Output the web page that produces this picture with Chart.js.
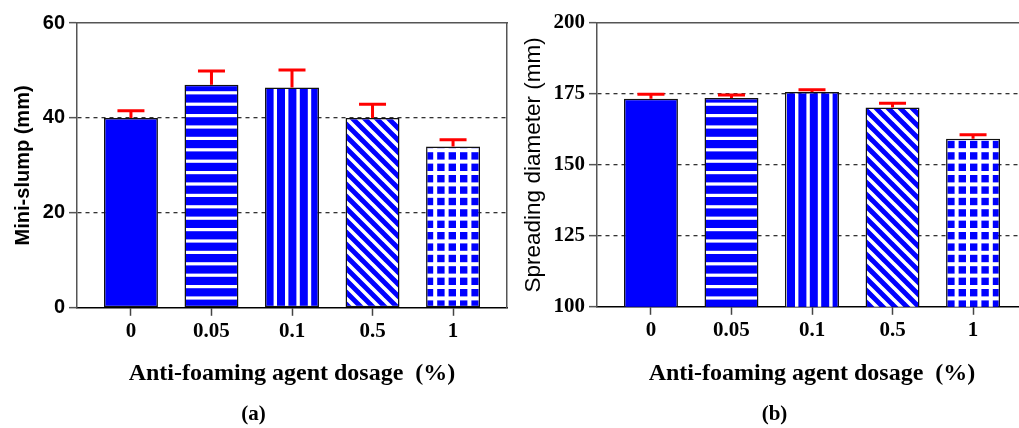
<!DOCTYPE html>
<html>
<head>
<meta charset="utf-8">
<script src="https://cdn.jsdelivr.net/npm/chart.js@4.4.1/dist/chart.umd.min.js"></script>
<style>
  html, body { margin: 0; padding: 0; background: #fff; overflow: hidden; }
  body { width: 1019px; height: 428px; position: relative; }
  .panel { position: absolute; top: 0; }
  #panelA { left: 0; }
  #panelB { left: 510px; }
</style>
</head>
<body>
<div class="panel" id="panelA"><canvas id="chartA" width="515" height="428"></canvas></div>
<div class="panel" id="panelB"><canvas id="chartB" width="530" height="428"></canvas></div>
<script>
// dosage categories (%)
const doses = ['0', '0.05', '0.1', '0.5', '1'];

// (a) mini-slump, mm
const slump = [40.0, 47.0, 46.4, 40.0, 34.0];
const slumpErr = [1.5, 2.9, 3.7, 2.9, 1.4];
const slumpTicks = [0, 20, 40, 60];

// (b) spreading diameter, mm
const spread = [173.3, 173.6, 175.7, 170.2, 159.2];
const spreadErr = [1.6, 1.0, 0.8, 1.5, 1.4];
const spreadTicks = [100, 125, 150, 175, 200];

const BLUE = '#0000ff';
const SANS = "'Liberation Sans', Arial, sans-serif";
const SERIF = "'Liberation Serif', 'Times New Roman', serif";

// hatch fills, one per dosage
function makePattern(kind) {
  const c = document.createElement('canvas');
  const ctx = c.getContext('2d');
  if (kind === 'diag') {
    const s = 12;
    c.width = s; c.height = s;
    ctx.fillStyle = BLUE; ctx.fillRect(0, 0, s, s);
    ctx.strokeStyle = '#fff'; ctx.lineWidth = 3.6;
    ctx.beginPath();
    for (const k of [-s, 0, s]) { ctx.moveTo(-1, k - 1); ctx.lineTo(s + 1, s + k + 1); }
    ctx.stroke();
    return ctx.createPattern(c, 'repeat');
  }
  const p = 11.4, n = 5, s = 57;
  c.width = s; c.height = s;
  ctx.fillStyle = BLUE; ctx.fillRect(0, 0, s, s);
  ctx.fillStyle = '#fff';
  for (let i = 0; i < n; i++) {
    if (kind === 'h' || kind === 'grid') ctx.fillRect(0, i * p, s, kind === 'grid' ? 4 : 3.2);
    if (kind === 'v' || kind === 'grid') ctx.fillRect(i * p, 0, kind === 'grid' ? 4 : 3.4, s);
  }
  return ctx.createPattern(c, 'repeat');
}
const fills = [BLUE, makePattern('h'), makePattern('v'), makePattern('diag'), makePattern('grid')];

// red upward error bars on top of each bar
const errorBars = {
  id: 'errorBars',
  afterDatasetsDraw(chart, args, opts) {
    const { ctx } = chart;
    const y = chart.scales.y;
    const meta = chart.getDatasetMeta(0);
    const data = chart.data.datasets[0].data;
    ctx.save();
    ctx.strokeStyle = '#ff0000';
    ctx.lineWidth = 3;
    meta.data.forEach((bar, i) => {
      const top = y.getPixelForValue(data[i].y + opts.errors[i]);
      ctx.beginPath();
      ctx.moveTo(bar.x, bar.y);
      ctx.lineTo(bar.x, top);
      ctx.moveTo(bar.x - 13.5, top);
      ctx.lineTo(bar.x + 13.5, top);
      ctx.stroke();
    });
    ctx.restore();
  }
};

function buildChart(id, cfg) {
  const lo = cfg.ticks[0], hi = cfg.ticks[cfg.ticks.length - 1];
  return new Chart(document.getElementById(id), {
    type: 'bar',
    data: {
      datasets: [{
        data: cfg.values.map((v, i) => ({ x: i, y: v })),
        backgroundColor: fills,
        borderColor: '#111',
        borderWidth: 1.5,
        borderSkipped: false,
        barPercentage: 0.67,
        categoryPercentage: 1
      }]
    },
    options: {
      responsive: false,
      animation: false,
      layout: { padding: { top: 23, bottom: 1, left: cfg.padLeft, right: cfg.padRight } },
      plugins: {
        legend: { display: false },
        tooltip: { enabled: false },
        title: {
          display: true, position: 'bottom', text: cfg.tag, color: '#000',
          font: { family: SERIF, size: 21, weight: 'bold' },
          padding: 0
        },
        errorBars: { errors: cfg.errors }
      },
      scales: {
        x: {
          type: 'linear', min: -0.67, max: 4.67, offset: false,
          afterBuildTicks: s => { s.ticks = doses.map((d, i) => ({ value: i })); },
          afterFit: s => { s.height = cfg.xHeight; },
          ticks: {
            callback: v => doses[v], color: '#000', padding: 3,
            maxRotation: 0, autoSkip: false,
            font: { family: SERIF, size: 21, weight: 'bold' }
          },
          grid: { offset: false, drawOnChartArea: false, tickLength: 8, tickColor: '#444', tickWidth: 1.5 },
          border: { color: '#000', width: 1.5 },
          title: {
            display: true, text: 'Anti-foaming agent dosage  (%)', color: '#000',
            font: { family: SERIF, size: 24, weight: 'bold' },
            padding: { top: 14, bottom: 14 }
          }
        },
        y: {
          type: 'linear', min: lo, max: hi,
          afterBuildTicks: s => { s.ticks = cfg.ticks.map(v => ({ value: v })); },
          afterFit: s => { s.width = cfg.yWidth; },
          ticks: { color: '#000', padding: 4, font: cfg.tickFont },
          grid: {
            color: c => (c.tick && c.tick.value !== lo && c.tick.value !== hi) ? '#333' : 'transparent',
            lineWidth: 1.3, tickLength: 8, tickColor: '#555', tickWidth: 1.5
          },
          border: { color: '#555', width: 1.5, dash: [4, 4] },
          title: {
            display: true, text: cfg.yTitle, color: '#000',
            font: cfg.titleFont,
            padding: { top: cfg.yTitlePad, bottom: 0 }
          }
        },
        // top and right frame lines
        x2: {
          type: 'linear', position: 'top', display: true, offset: false,
          afterFit: s => { s.height = 0; },
          ticks: { display: false }, grid: { display: false },
          border: { color: '#555', width: 1.5 }
        },
        y2: {
          type: 'linear', position: 'right', display: true,
          afterFit: s => { s.width = 0; },
          ticks: { display: false }, grid: { display: false },
          border: { color: '#555', width: 1.5 }
        }
      }
    },
    plugins: [errorBars]
  });
}

buildChart('chartA', {
  values: slump, errors: slumpErr, ticks: slumpTicks, tag: '(a)',
  yTitle: 'Mini-slump (mm)',
  titleFont: { family: SANS, size: 20, weight: 'bold' },
  tickFont: { family: SANS, size: 20, weight: 'bold' },
  yWidth: 77, yTitlePad: 11, padLeft: 0, padRight: 8, xHeight: 94
});

buildChart('chartB', {
  values: spread, errors: spreadErr, ticks: spreadTicks, tag: '(b)',
  yTitle: 'Spreading diameter (mm)',
  titleFont: { family: SANS, size: 22.5, weight: 'normal' },
  tickFont: { family: SERIF, size: 21, weight: 'bold' },
  yWidth: 75, yTitlePad: -2, padLeft: 12, padRight: 13, xHeight: 95
});
</script>
</body>
</html>
